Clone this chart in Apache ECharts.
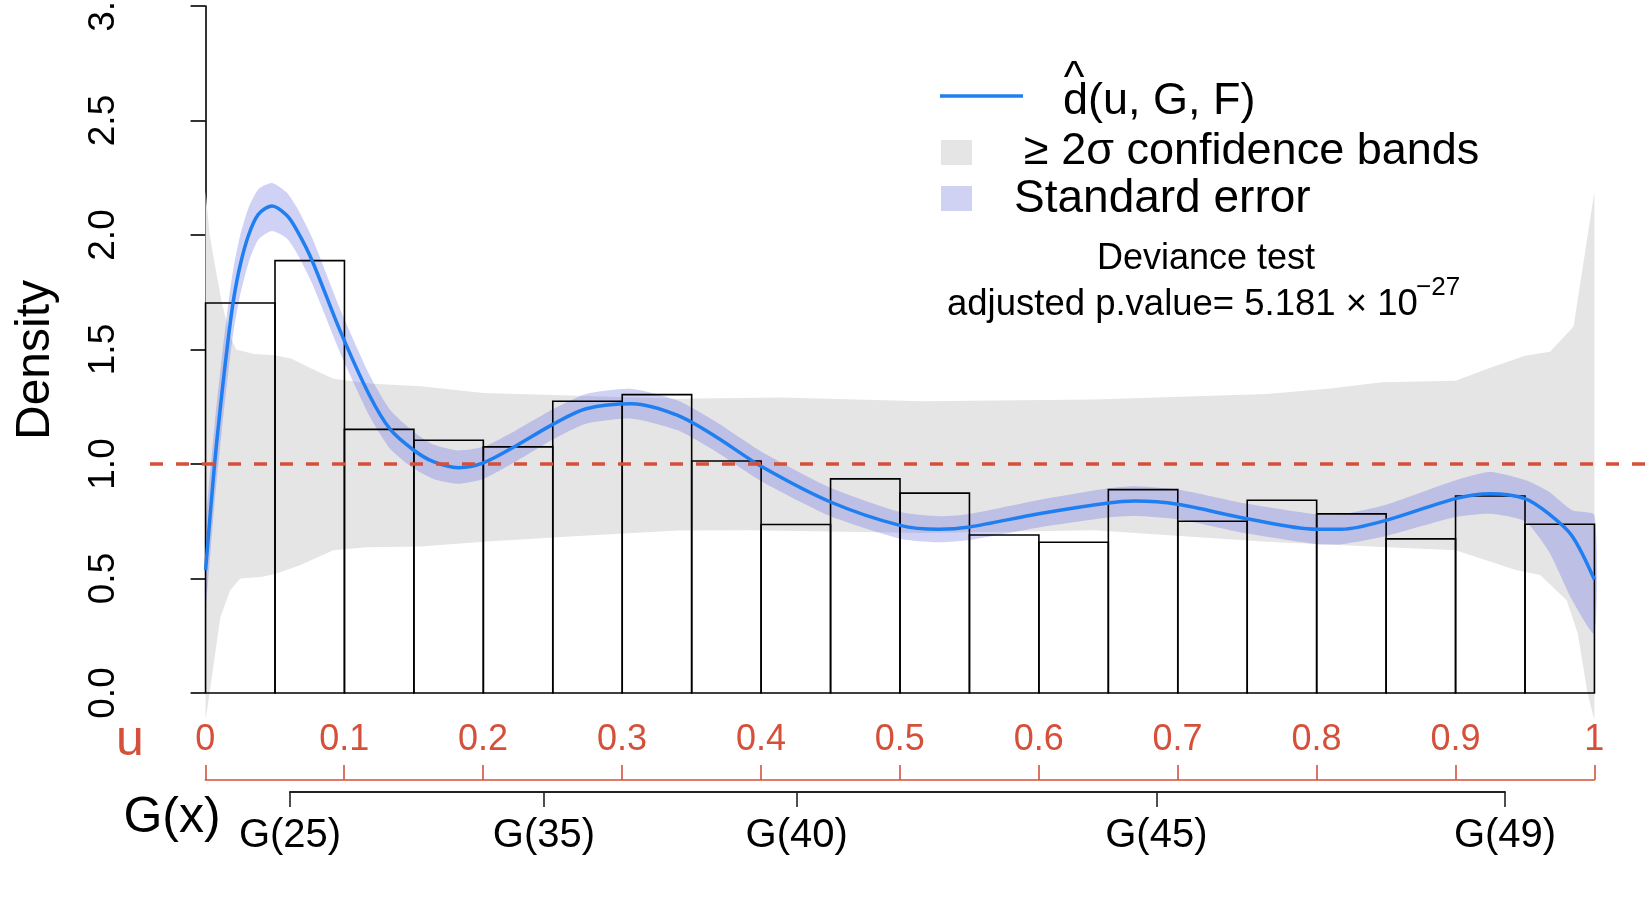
<!DOCTYPE html>
<html>
<head>
<meta charset="utf-8">
<script src="https://cdn.jsdelivr.net/npm/echarts@6/dist/echarts.min.js"></script>
<style>
html,body{margin:0;padding:0;background:#fff;}
#chart{width:1650px;height:900px;}
</style>
</head>
<body>
<div id="chart"></div>
<script>
// ---------------- data ----------------
const histBreaks = [0, 0.05, 0.1, 0.15, 0.2, 0.25, 0.3, 0.35, 0.4, 0.45, 0.5, 0.55, 0.6, 0.65, 0.7, 0.75, 0.8, 0.85, 0.9, 0.95, 1.0];
const histDensity = [1.703, 1.888, 1.151, 1.104, 1.075, 1.274, 1.303, 1.013, 0.736, 0.935, 0.873, 0.690, 0.658, 0.888, 0.750, 0.842, 0.782, 0.673, 0.860, 0.737];

const curveU = [0, 0.0065, 0.0118, 0.0166, 0.0202, 0.025, 0.031, 0.038, 0.0478, 0.0586, 0.0658, 0.0766, 0.097, 0.118, 0.133, 0.15, 0.164, 0.182, 0.2, 0.224, 0.25, 0.274, 0.307, 0.34, 0.368, 0.4, 0.45, 0.5, 0.528, 0.55, 0.6, 0.65, 0.669, 0.7, 0.75, 0.8, 0.818, 0.85, 0.9, 0.925, 0.95, 0.967, 0.984, 1.0];
const curveV = [0.536, 1.0, 1.31, 1.56, 1.72, 1.87, 2.0, 2.09, 2.127, 2.085, 2.02, 1.89, 1.58, 1.30, 1.151, 1.06, 1.01, 0.984, 1.005, 1.081, 1.173, 1.241, 1.263, 1.212, 1.117, 0.99, 0.834, 0.732, 0.715, 0.725, 0.783, 0.83, 0.838, 0.824, 0.761, 0.715, 0.715, 0.754, 0.849, 0.870, 0.849, 0.783, 0.685, 0.495];

const seUpper = [0.72, 1.17, 1.47, 1.71, 1.86, 2.0, 2.12, 2.2, 2.227, 2.185, 2.12, 1.99, 1.675, 1.39, 1.236, 1.14, 1.085, 1.059, 1.075, 1.149, 1.239, 1.306, 1.328, 1.277, 1.182, 1.055, 0.896, 0.79, 0.772, 0.782, 0.843, 0.894, 0.903, 0.889, 0.826, 0.78, 0.78, 0.822, 0.929, 0.965, 0.93, 0.88, 0.798, 0.776];
const seLower = [0.37, 0.83, 1.15, 1.41, 1.58, 1.74, 1.88, 1.98, 2.017, 1.985, 1.92, 1.79, 1.485, 1.21, 1.066, 0.98, 0.935, 0.914, 0.935, 1.013, 1.107, 1.176, 1.198, 1.147, 1.052, 0.925, 0.772, 0.674, 0.658, 0.668, 0.723, 0.766, 0.773, 0.759, 0.696, 0.65, 0.65, 0.686, 0.769, 0.783, 0.75, 0.62, 0.405, 0.26];

const bandHiU = [0, 0.003, 0.007, 0.0115, 0.0177, 0.022, 0.035, 0.05, 0.062, 0.075, 0.092, 0.12, 0.155, 0.2, 0.256, 0.34, 0.414, 0.516, 0.64, 0.764, 0.81, 0.847, 0.9, 0.925, 0.95, 0.968, 0.985, 1.0];
const bandHi = [2.19, 2.0, 1.86, 1.71, 1.56, 1.50, 1.48, 1.475, 1.46, 1.42, 1.372, 1.35, 1.34, 1.31, 1.30, 1.285, 1.29, 1.274, 1.282, 1.306, 1.33, 1.357, 1.364, 1.42, 1.473, 1.49, 1.60, 2.19];
const bandLoU = [0, 0.005, 0.0106, 0.0178, 0.025, 0.04, 0.05, 0.068, 0.092, 0.116, 0.155, 0.2, 0.256, 0.34, 0.392, 0.516, 0.64, 0.764, 0.847, 0.9, 0.944, 0.961, 0.98, 0.988, 0.995, 1.0];
const bandLo = [-0.12, 0.09, 0.33, 0.45, 0.50, 0.507, 0.52, 0.558, 0.623, 0.636, 0.64, 0.66, 0.681, 0.71, 0.711, 0.699, 0.711, 0.66, 0.638, 0.623, 0.536, 0.515, 0.405, 0.26, 0.0, -0.12];

const refLevel = 1;

const yTicks = [0, 0.5, 1, 1.5, 2, 2.5, 3];
const uTicks = [0, 0.1, 0.2, 0.3, 0.4, 0.5, 0.6, 0.7, 0.8, 0.9, 1];
const uTickLabels = ['0', '0.1', '0.2', '0.3', '0.4', '0.5', '0.6', '0.7', '0.8', '0.9', '1'];
const gTicks = [0.061, 0.2438, 0.4258, 0.6847, 0.9357];
const gTickLabels = ['G(25)', 'G(35)', 'G(40)', 'G(45)', 'G(49)'];

// ---------------- styling ----------------
const FONT = 'Liberation Sans, Arial, Helvetica, sans-serif';
const RED = '#d5503a';
const BLUE = '#1f7ff0';
const GRAY = '#e6e5e6';
const LAV = 'rgba(110,115,225,0.33)';

function nearestIdx(arr, v) {
  let best = 0, d = Infinity;
  arr.forEach((a, i) => { const dd = Math.abs(a - v); if (dd < d) { d = dd; best = i; } });
  return best;
}

function polygonItem(upU, upV, loU, loV, fill, z, smooth) {
  return {
    type: 'custom',
    xAxisIndex: 0, yAxisIndex: 0,
    coordinateSystem: 'cartesian2d',
    clip: false,
    silent: true,
    z: z,
    data: [[0, 0]],
    renderItem: function (params, api) {
      const pts = [];
      for (let i = 0; i < upU.length; i++) pts.push(api.coord([upU[i], upV[i]]));
      for (let i = loU.length - 1; i >= 0; i--) pts.push(api.coord([loU[i], loV[i]]));
      return { type: 'polygon', shape: { points: pts, smooth: smooth || 0 }, style: { fill: fill, stroke: null } };
    }
  };
}

const chart = echarts.init(document.getElementById('chart'), null, { renderer: 'canvas' });

const option = {
  animation: false,
  backgroundColor: '#ffffff',
  textStyle: { fontFamily: FONT },
  grid: [
    { left: 150, right: 0, top: 6, bottom: 207, containLabel: false, outerBoundsMode: 'none' },
    { left: 205.3, right: 55.7, top: 6, bottom: 120, containLabel: false, outerBoundsMode: 'none' },
    { left: 290, right: 145, top: 6, bottom: 108, containLabel: false, outerBoundsMode: 'none' }
  ],
  xAxis: [
    { gridIndex: 0, type: 'value', min: -0.04, max: 1.04, show: false },
    {
      gridIndex: 1, type: 'value', min: 0, max: 1, interval: 0.1, position: 'bottom',
      axisLine: { show: true, lineStyle: { color: RED, width: 1.6 } },
      axisTick: { show: true, inside: true, length: 15, lineStyle: { color: RED, width: 1.6 } },
      axisLabel: {
        show: true, inside: true, margin: 22, color: RED, fontSize: 36, fontFamily: FONT,
        formatter: v => uTickLabels[nearestIdx(uTicks, v)]
      },
      splitLine: { show: false }
    },
    {
      gridIndex: 2, type: 'value', min: gTicks[0], max: gTicks[gTicks.length - 1], position: 'bottom',
      axisLine: { show: true, lineStyle: { color: '#222', width: 2 } },
      axisTick: { show: true, inside: false, length: 15, customValues: gTicks, lineStyle: { color: '#222', width: 1.6 } },
      axisLabel: {
        show: true, margin: 24, color: '#000', fontSize: 40, fontFamily: FONT, customValues: gTicks,
        formatter: v => gTickLabels[nearestIdx(gTicks, v)]
      },
      splitLine: { show: false }
    }
  ],
  yAxis: [
    {
      gridIndex: 0, type: 'value', min: 0, max: 3, interval: 0.5,
      axisLine: { show: true, lineStyle: { color: '#000', width: 1.6 } },
      axisTick: { show: true, inside: false, length: 15, lineStyle: { color: '#000', width: 1.6 } },
      axisLabel: {
        show: true, rotate: 90, margin: 28, color: '#000', fontSize: 37, fontFamily: FONT,
        formatter: v => yTicks[nearestIdx(yTicks, v)].toFixed(1)
      },
      splitLine: { show: false }
    },
    { gridIndex: 1, type: 'value', min: 0, max: 3, show: false },
    { gridIndex: 2, type: 'value', min: 0, max: 3, show: false }
  ],
  series: [
    polygonItem(bandHiU, bandHi, bandLoU, bandLo, GRAY, 1, 0),
    polygonItem(curveU, seUpper, curveU, seLower, LAV, 2, 0.2),
    {
      type: 'custom',
      xAxisIndex: 0, yAxisIndex: 0,
      silent: true,
      z: 3,
      data: histDensity.map((h, i) => [histBreaks[i], histBreaks[i + 1], h]),
      renderItem: function (params, api) {
        const p0 = api.coord([api.value(0), api.value(2)]);
        const p1 = api.coord([api.value(1), 0]);
        return {
          type: 'rect',
          shape: { x: p0[0], y: p0[1], width: p1[0] - p0[0], height: p1[1] - p0[1] },
          style: { fill: 'rgba(0,0,0,0)', stroke: '#000', lineWidth: 1.6 }
        };
      }
    },
    {
      type: 'line',
      xAxisIndex: 0, yAxisIndex: 0,
      data: curveU.map((u, i) => [u, curveV[i]]),
      smooth: 0.3,
      showSymbol: false,
      silent: true,
      z: 4,
      lineStyle: { color: BLUE, width: 3.5 }
    },
    {
      type: 'line',
      xAxisIndex: 0, yAxisIndex: 0,
      data: [],
      silent: true,
      z: 5,
      markLine: {
        silent: true,
        symbol: ['none', 'none'],
        label: { show: false },
        lineStyle: { color: RED, width: 3.5, type: [13, 13] },
        data: [{ yAxis: refLevel }]
      }
    }
  ],
  graphic: [
    { type: 'text', x: 36, y: 360, rotation: Math.PI / 2, style: { text: 'Density', font: '48px ' + FONT, fill: '#000', textAlign: 'center', textVerticalAlign: 'middle' } },
    { type: 'text', x: 130, y: 741, style: { text: 'u', font: '50px ' + FONT, fill: RED, textAlign: 'center', textVerticalAlign: 'middle' } },
    { type: 'text', x: 172, y: 818, style: { text: 'G(x)', font: '50px ' + FONT, fill: '#000', textAlign: 'center', textVerticalAlign: 'middle' } },
    // legend
    { type: 'line', shape: { x1: 940, y1: 96, x2: 1023, y2: 96 }, style: { stroke: BLUE, lineWidth: 3.5 } },
    { type: 'rect', shape: { x: 941, y: 140, width: 31, height: 25 }, style: { fill: GRAY } },
    { type: 'rect', shape: { x: 941, y: 186, width: 31, height: 25 }, style: { fill: '#d0d2f4' } },
    { type: 'text', x: 1074, y: 80, style: { text: '^', font: '44px ' + FONT, fill: '#000', textAlign: 'center', textVerticalAlign: 'middle' } },
    { type: 'text', x: 1063, y: 102, style: { text: 'd(u, G, F)', font: '45px ' + FONT, fill: '#000', textAlign: 'left', textVerticalAlign: 'middle' } },
    { type: 'text', x: 1024, y: 152, style: { text: '\u2265 2\u03c3 confidence bands', font: '45px ' + FONT, fill: '#000', textAlign: 'left', textVerticalAlign: 'middle' } },
    { type: 'text', x: 1014, y: 199, style: { text: 'Standard error', font: '46px ' + FONT, fill: '#000', textAlign: 'left', textVerticalAlign: 'middle' } },
    // deviance test annotation
    { type: 'text', x: 1206, y: 259, style: { text: 'Deviance test', font: '36px ' + FONT, fill: '#000', textAlign: 'center', textVerticalAlign: 'middle' } },
    { type: 'text', x: 947, y: 305, style: { text: 'adjusted p.value= 5.181 \u00d7 10', font: '36.5px ' + FONT, fill: '#000', textAlign: 'left', textVerticalAlign: 'middle' } },
    { type: 'text', x: 1416, y: 288, style: { text: '\u221227', font: '26px ' + FONT, fill: '#000', textAlign: 'left', textVerticalAlign: 'middle' } }
  ]
};

chart.setOption(option);
</script>
</body>
</html>
